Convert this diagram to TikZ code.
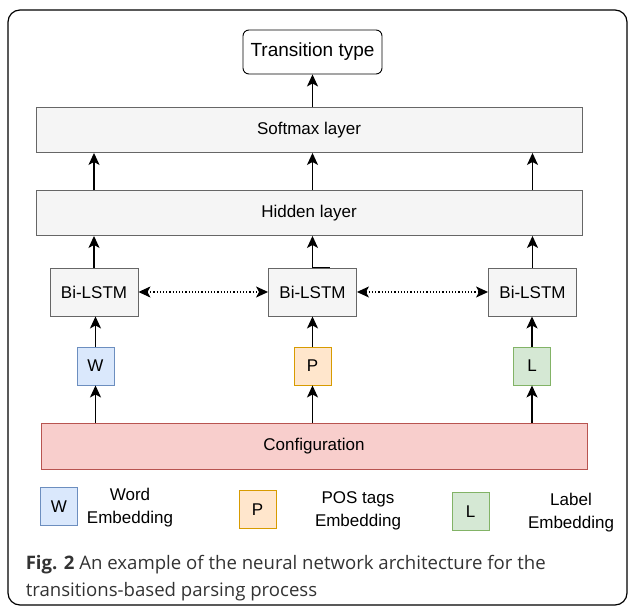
\documentclass[tikz,border=0pt]{standalone}
\usepackage{fontspec}
\setmainfont{Liberation Sans}
\newfontfamily\capfont{Open Sans}
\usetikzlibrary{arrows.meta,positioning}

\definecolor{layerfill}{HTML}{F5F5F5}
\definecolor{layerdraw}{HTML}{666666}
\definecolor{wfill}{HTML}{DAE8FC}
\definecolor{wdraw}{HTML}{6C8EBF}
\definecolor{pfill}{HTML}{FFE6CC}
\definecolor{pdraw}{HTML}{D79B00}
\definecolor{lfill}{HTML}{D5E8D4}
\definecolor{ldraw}{HTML}{82B366}
\definecolor{cfill}{HTML}{F8CECC}
\definecolor{cdraw}{HTML}{B85450}
\definecolor{captext}{HTML}{333333}

\begin{document}
\begin{tikzpicture}[>={Stealth[length=12pt,width=11pt,inset=3pt]},->,x=1pt,y=-1pt,line width=1.5pt]

            \tikzstyle{every node}=[font=\fontsize{17}{23}\selectfont,align=center]
            \tikzstyle{layer}=[draw=layerdraw,fill=layerfill,line width=0.9pt,minimum width=546pt,minimum height=45pt]
            \tikzstyle{lstm}=[layer,minimum width=88pt,minimum height=48pt]
            \tikzstyle{embed}=[line width=0.9pt,minimum width=37pt,minimum height=38pt,inner sep=0pt]

            \useasboundingbox (0,0) rectangle (630,609);
            \draw[-,rounded corners=12pt,line width=1.2pt] (8,10) rectangle (627,605);

            \node[draw,rounded corners=6pt,line width=0.9pt,minimum width=139pt,minimum height=44pt,
                  font=\fontsize{19}{23}\selectfont] (out) at (312.5,52) {Transition type};
            \node[layer] (soft) at (309,130) {Softmax layer};
            \node[layer] (hid)  at (309,213) {Hidden layer};

            \node[lstm] (b1) at (94,292)    {Bi-LSTM};
            \node[lstm] (b2) at (312.5,292) {Bi-LSTM};
            \node[lstm] (b3) at (532.5,292) {Bi-LSTM};

            \node[embed,draw=wdraw,fill=wfill] (w) at (95.5,366) {W};
            \node[embed,draw=pdraw,fill=pfill] (p) at (312.5,366) {P};
            \node[embed,draw=ldraw,fill=lfill] (l) at (532,366) {L};

            \node[draw=cdraw,fill=cfill,line width=0.9pt,minimum width=546pt,minimum height=46pt] (conf) at (314,446) {Configuration};

            % legend
            \node[embed,draw=wdraw,fill=wfill] (lw) at (59,506.5)  {W};
            \node[embed,draw=pdraw,fill=pfill] (lp) at (257.5,509.5) {P};
            \node[embed,draw=ldraw,fill=lfill] (ll) at (470.5,511.5) {L};
            \node (lwtext) at (130,508) {Word\\Embedding};
            \node (lptext) at (358,511) {POS tags\\Embedding};
            \node (lltext) at (571,513) {Label\\Embedding};

            % caption
            \node[anchor=north west,align=left,text=captext,inner sep=0pt,
                  font=\capfont\fontsize{18.6}{27}\selectfont] (cap) at (25,555)
                 {\textbf{Fig. 2} An example of the neural network architecture for the\\transitions-based parsing process};

            % connectors
            \draw (soft.north -| out) -- (out.south);
            \foreach \b in {b1,b3}
                \draw (hid.north -| \b) -- (soft.south -| \b);
            \draw (hid.north -| out) -- (soft.south -| out);
            \draw (b1.north) -- (b1.north |- hid.south);
            \draw ([xshift=17pt]b2.north) -- (b2.north) -- (b2.north |- hid.south);
            \draw (b3.north) -- (b3.north |- hid.south);

            \draw[<->,dotted,line width=1.2pt] (b1) -- (b2);
            \draw[<->,dotted,line width=1.2pt] (b2) -- (b3);

            \draw (w) -- (w.north |- b1.south);
            \draw (p) -- (p.north |- b2.south);
            \draw (l) -- (l.north |- b3.south);

            \draw (conf.north -| w) -- (w.south);
            \draw (conf.north -| p) -- (p.south);
            \draw (conf.north -| l) -- (l.south);
        \end{tikzpicture}
\end{document}
